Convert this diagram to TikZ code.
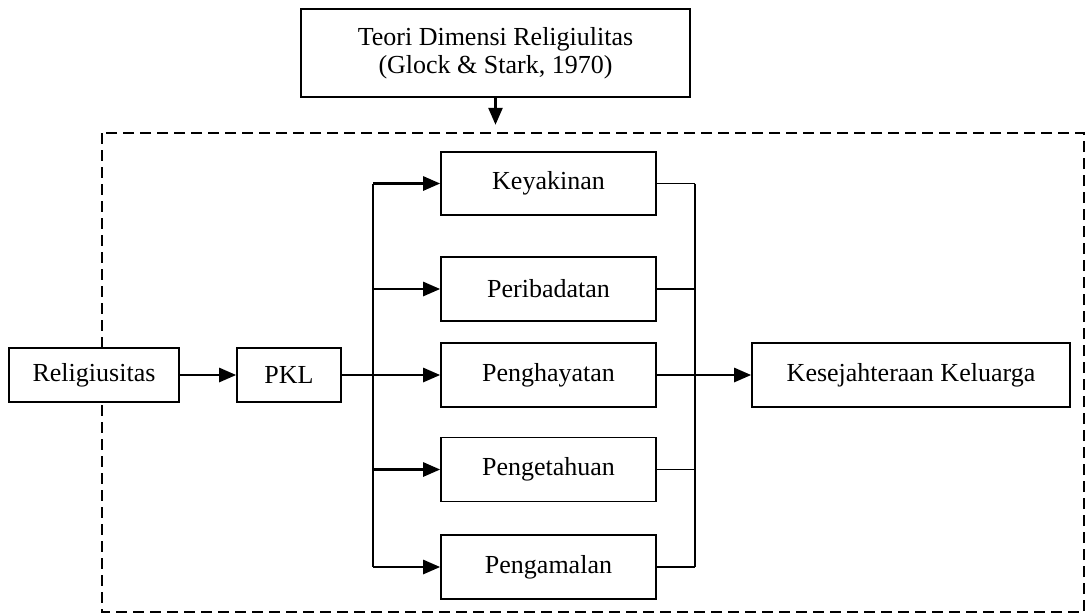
\documentclass[tikz,border=0pt]{standalone}
\usepackage{fontspec}
\setmainfont{Liberation Serif}
\usetikzlibrary{arrows.meta,calc}
\begin{document}
\begin{tikzpicture}[x=1pt,y=-1pt,
  box/.style={draw=black,fill=white,line width=1.6pt,inner sep=0pt,font=\fontsize{26}{30}\selectfont,align=center},
  thin/.style={line width=1.4pt},
  arr/.style={line width=2.6pt,-{Triangle[length=17pt,width=14pt]}},
  frame/.style={line width=1.8pt,dash pattern=on 11pt off 6pt}]
\useasboundingbox (0,0) rectangle (1085,614);
\coordinate (fa) at (102,133);
\coordinate (fb) at (1084,612);
\draw[frame] (fa) rectangle (fb);
\node[box,minimum width=389pt,minimum height=88pt] (top) at (495.5,53) {Teori Dimensi Religiulitas\\[-2pt](Glock \& Stark, 1970)};
\draw[arr] (top.south) -- ++(0,27);
\node[box,minimum width=170pt,minimum height=54pt] (rel) at (94,375) {Religiusitas};
\node[box,minimum width=104pt,minimum height=54pt] (pkl) at (289,375) {PKL};
\node[box,minimum width=215pt,minimum height=63pt] (k1) at (548.5,183.5) {Keyakinan};
\node[box,minimum width=215pt,minimum height=64pt] (k2) at (548.5,289) {Peribadatan};
\node[box,minimum width=215pt,minimum height=64pt] (k3) at (548.5,375) {Penghayatan};
\node[box,minimum width=215pt,minimum height=64pt] (k4) at (548.5,469.5) {Pengetahuan};
\node[box,minimum width=215pt,minimum height=64pt] (k5) at (548.5,567) {Pengamalan};
\node[box,minimum width=318pt,minimum height=64pt] (kes) at (911,375) {Kesejahteraan Keluarga};
\coordinate (jl) at (373,375);
\coordinate (jr) at (695,375);
\draw[arr] (rel.east) -- (pkl.west);
\draw[thin] (pkl.east) -- (jl);
\draw[thin] (jl |- k1.west) -- (jl |- k5.west);
\foreach \k in {k1,k2,k3,k4,k5}{
  \draw[arr] (jl |- \k.west) -- (\k.west);
  \draw[thin] (\k.east) -- (jr |- \k.east);
}
\draw[thin] (jr |- k1.east) -- (jr |- k5.east);
\draw[arr] (jr) -- (kes.west);
\end{tikzpicture}
\end{document}
